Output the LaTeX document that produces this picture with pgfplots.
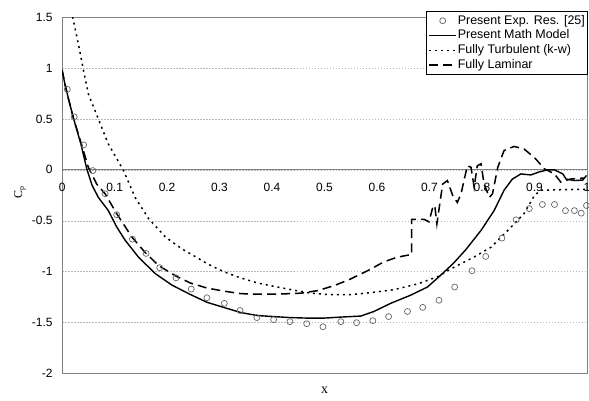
\documentclass[border=0pt]{standalone}
\usepackage{pgfplots}
\pgfplotsset{compat=1.18}
\usepackage{fontspec}
\setmainfont{Liberation Sans}
\newfontfamily\serif{Liberation Serif}

\pgfplotsset{
  markimage/.style={legend image code/.code={\draw[mark repeat=2,mark phase=2,##1] plot coordinates {(0bp,0bp) (13.5bp,0bp) (27bp,0bp)};}},
}

\begin{document}
\begin{tikzpicture}
\begin{axis}[
  scale only axis,
  width=524bp, height=356bp,
  xmin=0, xmax=1, ymin=-2, ymax=1.5,
  xtick={0,0.1,0.2,0.3,0.4,0.5,0.6,0.7,0.8,0.9,1},
  ytick={-2,-1.5,-1,-0.5,0,0.5,1,1.5},
  major tick length=0pt,
  axis line style={gray, line width=0.8bp},
  ymajorgrids,
  major grid style={gray!55, dash pattern=on 1.5bp off 1.5bp, line width=0.6bp},
  tick label style={font=\fontsize{12}{14}\selectfont},
  /pgf/number format/assume math mode=true,
  xticklabel style={yshift=193.4bp},
  yticklabel style={xshift=-6bp},
  xlabel={\serif x},
  ylabel={\serif C\textsubscript{p}},
  xlabel style={font=\fontsize{14}{16}\selectfont, at={(rel axis cs:0.5,0)}, anchor=north, yshift=-10bp},
  ylabel style={font=\fontsize{12}{14}\selectfont, at={(rel axis cs:0,0.5)}, anchor=center, yshift=42bp, xshift=3bp},
  legend style={at={(rel axis cs:1,1)}, anchor=north east, xshift=1bp, yshift=6bp,
    draw=black, line width=0.6bp, fill=white, inner sep=2bp,
    font=\fontsize{12.5}{14}\selectfont,
    nodes={inner sep=0.8bp, text height=10bp, text depth=3.2bp}},
  legend cell align=left,
  legend image code/.code={\draw[#1] (0bp,0bp) -- (27bp,0bp);},
]
\draw[gray, line width=0.8bp] (axis cs:0,0) -- (axis cs:1,0);

% Present Exp. Res. [25]
\addplot[only marks, mark=o, mark size=3bp, draw=black!60, fill=white, line width=0.7bp, markimage]
coordinates {
(0.010,0.79) (0.023,0.52) (0.041,0.245) (0.0585,-0.007) (0.082,-0.235) (0.104,-0.44)
(0.134,-0.68) (0.160,-0.82) (0.186,-0.96) (0.217,-1.06) (0.246,-1.17) (0.276,-1.255)
(0.309,-1.31) (0.339,-1.38) (0.371,-1.45) (0.403,-1.47) (0.434,-1.49) (0.466,-1.51)
(0.497,-1.54) (0.531,-1.49) (0.561,-1.50) (0.592,-1.48) (0.622,-1.44) (0.658,-1.39)
(0.687,-1.35) (0.718,-1.28) (0.748,-1.15) (0.781,-0.99) (0.807,-0.85) (0.838,-0.67)
(0.865,-0.49) (0.890,-0.38) (0.915,-0.34) (0.938,-0.34) (0.959,-0.40) (0.976,-0.40)
(0.989,-0.425) (0.999,-0.35)
};
\addlegendentry{Present Exp. Res. [25]}

% Present Math Model
\addplot[black, line width=1.4bp, mark=none] coordinates {
(0,0.98) (0.005,0.85) (0.012,0.70) (0.022,0.50) (0.036,0.25) (0.047,0.01) (0.057,-0.15)
(0.069,-0.27) (0.088,-0.40) (0.104,-0.56) (0.120,-0.69) (0.146,-0.86) (0.178,-1.02)
(0.209,-1.13) (0.241,-1.215) (0.276,-1.30) (0.308,-1.35) (0.340,-1.40) (0.372,-1.43)
(0.403,-1.44) (0.435,-1.45) (0.467,-1.455) (0.499,-1.455) (0.531,-1.445) (0.569,-1.435)
(0.594,-1.39) (0.626,-1.31) (0.664,-1.23) (0.696,-1.15) (0.720,-1.04) (0.745,-0.92)
(0.768,-0.79) (0.798,-0.595) (0.823,-0.40) (0.842,-0.20) (0.858,-0.09) (0.874,-0.04)
(0.893,-0.05) (0.909,-0.02) (0.925,0.00) (0.938,0.00) (0.954,-0.04) (0.960,-0.09)
(0.976,-0.105) (0.992,-0.10) (0.999,-0.055)
};
\addlegendentry{Present Math Model}

% Fully Turbulent (k-w)
\addplot[black, line width=1.5bp, dash pattern=on 2bp off 4bp, mark=none] coordinates {
(0.017,1.62) (0.020,1.50) (0.031,1.235) (0.041,0.97) (0.050,0.745) (0.069,0.50)
(0.088,0.255) (0.117,-0.007) (0.139,-0.27) (0.165,-0.48) (0.197,-0.66) (0.228,-0.775)
(0.260,-0.87) (0.276,-0.92) (0.308,-1.00) (0.340,-1.06) (0.372,-1.11) (0.410,-1.15)
(0.441,-1.18) (0.473,-1.21) (0.511,-1.225) (0.550,-1.225) (0.588,-1.205) (0.632,-1.176)
(0.677,-1.12) (0.715,-1.05) (0.747,-0.955) (0.785,-0.855) (0.817,-0.76) (0.849,-0.595)
(0.880,-0.43) (0.900,-0.25) (0.912,-0.20) (0.950,-0.195) (0.999,-0.19)
};
\addlegendentry{Fully Turbulent (k-w)}

% Fully Laminar
\addplot[black, line width=1.5bp, dash pattern=on 9bp off 5bp, mark=none] coordinates {
(0,0.98) (0.005,0.85) (0.012,0.70) (0.022,0.50) (0.037,0.25) (0.050,0.025) (0.066,-0.14)
(0.082,-0.235) (0.104,-0.43) (0.133,-0.66) (0.158,-0.81) (0.184,-0.94) (0.216,-1.04)
(0.244,-1.11) (0.276,-1.16) (0.308,-1.19) (0.340,-1.215) (0.372,-1.22) (0.410,-1.22)
(0.456,-1.21) (0.487,-1.185) (0.519,-1.135) (0.550,-1.07) (0.582,-0.99) (0.607,-0.92)
(0.620,-0.89) (0.639,-0.857) (0.666,-0.83) (0.666,-0.487) (0.690,-0.487) (0.699,-0.51)
(0.706,-0.37) (0.710,-0.35) (0.714,-0.53) (0.725,-0.14) (0.734,-0.105) (0.744,-0.25)
(0.753,-0.32) (0.760,-0.235) (0.772,0.04) (0.779,0.025) (0.785,-0.17) (0.791,0.04)
(0.798,0.06) (0.804,-0.14) (0.814,-0.27) (0.820,-0.235) (0.830,0.025) (0.842,0.19)
(0.861,0.23) (0.880,0.205) (0.900,0.12) (0.919,0.01) (0.938,-0.04) (0.950,-0.12)
(0.969,-0.09) (0.995,-0.08)
};
\addlegendentry{Fully Laminar}
\end{axis}
\pgfresetboundingbox
\path ([shift={(-62bp,-27bp)}]current axis.south west) rectangle ([shift={(2bp,17bp)}]current axis.north east);
\end{tikzpicture}
\end{document}
